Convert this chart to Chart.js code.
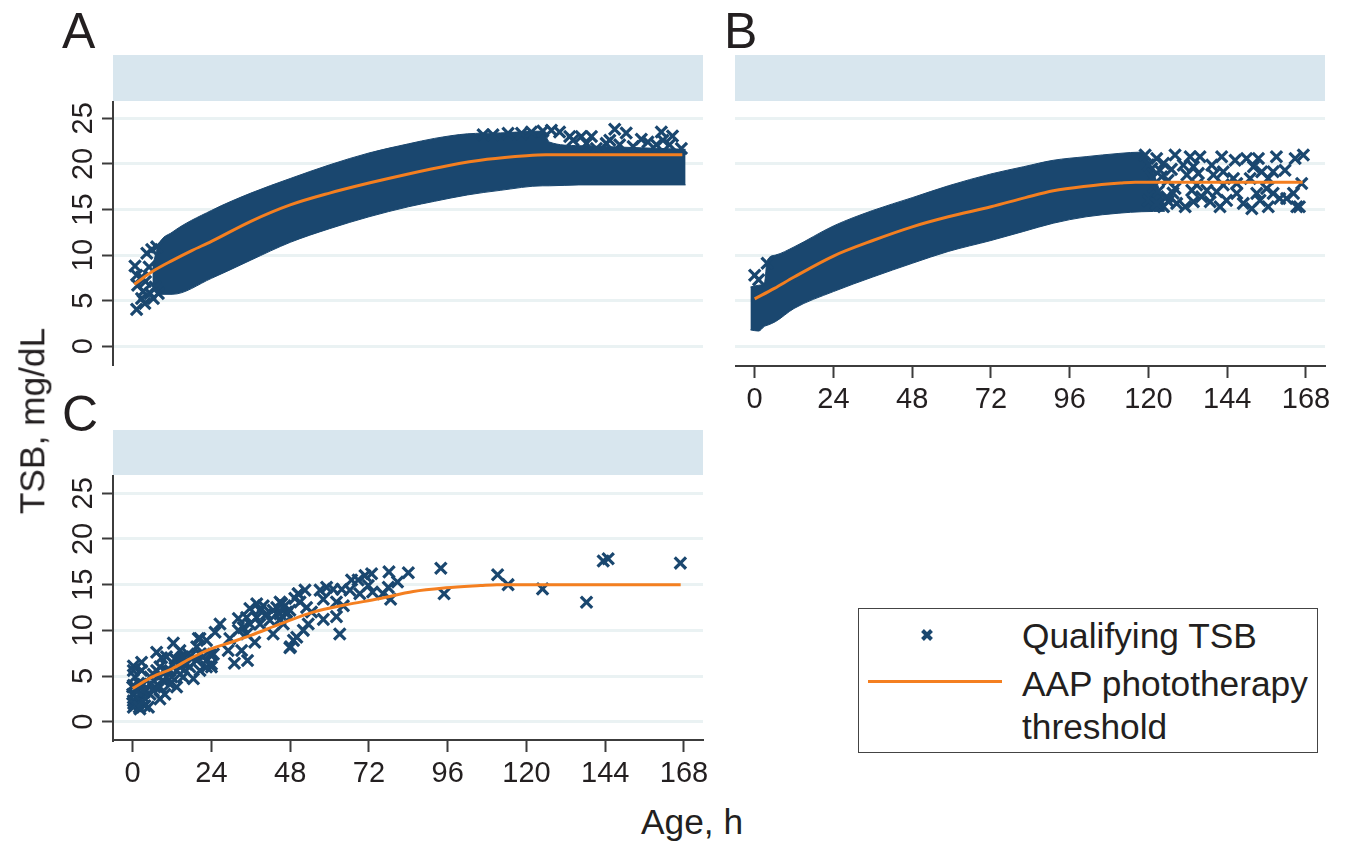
<!DOCTYPE html>
<html>
<head>
<meta charset="utf-8">
<title>TSB by age</title>
<script src="https://cdn.jsdelivr.net/npm/chart.js@4/dist/chart.umd.min.js"></script>
<style>
  html, body { margin: 0; padding: 0; background: #fff; }
  body { width: 1346px; height: 844px; position: relative; overflow: hidden; font-family: "Liberation Sans", Arial, sans-serif; color: #231f20; }
  canvas { position: absolute; display: block; }
  .band { position: absolute; width: 590px; height: 45.5px; background: #d8e6ee; }
  .txt { position: absolute; white-space: nowrap; line-height: 1; }
  .letter { font-size: 50px; }
  .axis-title { font-size: 35.3px; }
  #legend { position: absolute; left: 858px; top: 608px; width: 457.5px; height: 143px; border: 1.5px solid #444; }
  #legend svg { position: absolute; left: 0; top: 0; }
  #legend .txt { font-size: 35.3px; left: 163px; }
</style>
</head>
<body>
<div class="band" style="left:113px;top:55px"></div>
<div class="band" style="left:735px;top:55px"></div>
<div class="band" style="left:113px;top:429.5px"></div>
<canvas id="panelA" width="663" height="265" style="left:40px;top:101px"></canvas>
<canvas id="panelB" width="611" height="316" style="left:735px;top:101px"></canvas>
<canvas id="panelC" width="684" height="316" style="left:40px;top:474.5px"></canvas>
<div class="txt letter" style="left:62px;top:6px">A</div>
<div class="txt letter" style="left:724px;top:6px">B</div>
<div class="txt letter" style="left:62px;top:389px">C</div>
<div class="txt axis-title" style="left:31.5px;top:420.5px;transform:translate(-50%,-50%) rotate(-90deg)">TSB, mg/dL</div>
<div class="txt axis-title" style="left:641px;top:804px">Age, h</div>
<div id="legend">
  <svg width="457" height="143">
    <path d="M63.5 21.5 L72.5 30.5 M72.5 21.5 L63.5 30.5" stroke="#1a476f" stroke-width="4" fill="none"/>
    <line x1="9" y1="72.5" x2="143" y2="72.5" stroke="#f47f20" stroke-width="3"/>
  </svg>
  <div class="txt" style="top:9px">Qualifying TSB</div>
  <div class="txt" style="top:57px">AAP phototherapy</div>
  <div class="txt" style="top:100px">threshold</div>
</div>
<script>
const xTicks = [0, 24, 48, 72, 96, 120, 144, 168];
const yTicks = [0, 5, 10, 15, 20, 25];

// AAP threshold curves
const lineHoursA = [0.5, 6, 12, 18, 24, 36, 48, 60, 72, 84, 96, 108, 120, 126, 167.5];
const lineA = [6.8, 8.2, 9.4, 10.5, 11.5, 13.7, 15.5, 16.8, 17.9, 18.9, 19.8, 20.5, 20.9, 21, 21];
const lineHoursB = [0, 6, 12, 24, 36, 48, 59, 72, 82.5, 91, 101, 111.5, 116, 167];
const lineB = [5.2, 6.35, 7.6, 9.9, 11.6, 13.1, 14.2, 15.3, 16.3, 17.05, 17.55, 17.9, 18, 18];
const lineHoursC = [0, 6, 12, 18, 24, 30, 36, 45, 55, 65, 75, 85.5, 95.5, 106, 111, 167];
const lineC = [3.65, 4.9, 5.8, 7, 8, 8.7, 9.45, 10.7, 12, 12.8, 13.45, 14.25, 14.65, 14.9, 15, 15];

// solid part of the scatter, outer edges
const bandHoursA = [6, 8, 12, 24, 36, 48, 60, 72, 84, 92, 102, 112, 125, 127, 136, 168.5];
const bandTopA = [8.8, 11.2, 12.5, 14.9, 16.8, 18.4, 19.9, 21.2, 22.2, 22.8, 23.3, 23.4, 23.6, 22.4, 22, 21.6];
const bandLowA = [6.6, 5.7, 5.7, 7.45, 9.45, 11.4, 12.9, 14.2, 15.3, 15.9, 16.6, 17.1, 17.6, 17.6, 17.7, 17.7];
const bandHoursB = [-1.3, 1.2, 3, 3.8, 6.3, 12, 24, 36, 48, 59, 72, 82, 91, 101, 111, 118, 125];
const bandTopB = [6.5, 6.7, 7, 9.4, 10, 10.9, 13.2, 14.9, 16.3, 17.6, 18.9, 19.7, 20.4, 20.8, 21.15, 21.3, 15.5];
const bandLowB = [1.8, 1.67, 2.2, 2.3, 2.7, 4.15, 6, 7.6, 9.1, 10.4, 11.6, 12.6, 13.5, 14.2, 14.6, 14.76, 14.8];

// single crosses that stand clear of the solid part
const crossHoursA = [0.7, 1.2, 1.2, 1.5, 2.7, 2.7, 3.2, 3.7, 3.9, 4.3, 5, 5.3, 5.8, 6.3, 6.8, 7.3, 7.8,
  106.8, 109.8, 114.4, 118.5, 121.5, 125, 127.6, 130.1, 133.2, 134.2, 136.7, 139.8, 138.3, 141.3, 144.3, 145.4, 146.9, 148.4, 150.4,
  152.5, 155, 157, 159.6, 161.1, 161.6, 164.5, 163.6, 167.2];
const crossTsbA = [8.8, 7.8, 4.05, 6.7, 5.25, 7.6, 6, 4.7, 7.1, 10.2, 8.7, 5.8, 10.6, 5.25, 6.5, 10.9, 5.8,
  23.2, 23.2, 23.35, 23.35, 23.5, 23.6, 23.7, 23.5, 23, 22.6, 23, 23, 22.25, 21.7, 22.25, 22.6, 23.8, 22.1, 23.4,
  21.9, 22.7, 22.4, 22.1, 23.5, 22.6, 23.06, 22.1, 21.7];
const crossHoursB = [0, 1.2, 3.8,
  119, 122.5, 124.6, 128.1, 132.7, 135.7, 139.3, 142.3, 146.4, 149.9, 153.5, 159, 164.7, 167.2,
  121, 123.5, 133.7, 130.6, 142.8, 145.9, 152, 154.5, 158, 161.6, 151, 156.5, 135.2, 131.7, 139.8,
  121.5, 125.6, 128.6, 131.2, 133.7, 136.2, 138.8, 141.8, 143.8, 140.8, 146.9, 148.9, 151.5, 154, 156.5, 158, 156, 153,
  164.2, 165.2, 166.7, 162.1, 160, 137.8, 133.2, 128.1, 124.6, 120, 122.5, 146.9, 142.8, 134.7, 166,
  121, 123, 124, 126, 126, 127, 127.5, 120];
const crossTsbB = [7.8, 7.3, 9.1,
  20.97, 20.6, 20.06, 20.97, 20.79, 20.79, 19.87, 20.79, 20.4, 20.6, 20.6, 20.79, 20.6, 20.97,
  19.5, 19.3, 19.7, 19.87, 19.14, 18.4, 19.7, 19.14, 19.14, 19.3, 18.4, 18.4, 18.96, 18.8, 18.8,
  17.5, 16.4, 15.67, 15.3, 15.85, 16.4, 15.85, 15.3, 16, 16.95, 16.77, 15.67, 15.1, 16, 15.3, 16.77, 17.3, 16.77,
  16.77, 15.3, 17.86, 16.2, 16.2, 17.1, 17.1, 17.3, 15.3, 16, 15.67, 17.86, 17.7, 17.7, 15.3,
  18.5, 17, 18.6, 15.9, 18.2, 19.4, 16.8, 19.9];
const crossHoursC = [111.2, 114.4, 124.9, 138.3, 143.4, 144.9, 166.9,
  93.9, 94.9, 84, 78.1, 80.7, 77.9, 78.6, 76.3, 72.8, 70.8, 71.8, 73.1, 68.7, 66.7, 69.2, 66.2, 63.7, 61.1, 59.1, 57.1, 58.1, 62.1, 64.2, 62.1, 63.1,
  58.1, 53.5, 52, 49, 47.9, 53, 54.5, 51, 50.5, 52.5, 46.9, 45.4, 44.9,
  50.4, 48.1, 50, 42.8, 46.9, 44.9, 39.8, 35.7, 32.2, 26.6, 25.1, 20, 12.4, 7.3, 2.7, 0.2, 29.1, 31, 35, 33.2, 37.2, 34.7, 38.8, 41.8, 45.9, 37.8, 42.8, 32.2, 29.6,
  24, 0.2, 0, 0, 0.2, 1.2, 2.2, 3.7, 4.8, 3.2, 5.3, 8.3, 9.8, 6.8, 9.3, 13.4, 11.9, 14.4, 18.5, 20.5, 22.5, 24, 15.4, 10.3, 12.9, 16.9, 19.5, 5.3, 3.2, 0.7, 0.2, 2.7, 7.3, 8.8, 17.4, 21.5, 24.6, 14.4,
  0.3, 0.8, 1.5, 2, 2.5, 3, 3.5, 0.5, 1, 1.8, 0.2,
  5.3, 7.8, 10.3, 11.4, 14.4, 16.4, 17.4, 20.5, 22.5, 23.5, 19.5, 20.5, 22.5, 10.3, 13.4, 15.4, 8.3, 6.3, 11.4, 15.4, 8.3, 6.3, 3.2, 1.2,
  38.8, 40.8, 44.9, 47.9, 34.7, 33.7, 35.7, 37.8, 43.9, 46.4, 49.4];
const crossTsbC = [16.08, 15, 14.54, 13.08, 17.58, 17.83, 17.36,
  16.8, 14, 16.3, 16.4, 15.3, 14.7, 13.4, 14, 16.2, 16, 14.9, 14.2, 15.5, 15.5, 14, 14.4, 14.5, 14.5, 14.7, 14.4, 13.4, 13.1, 12.7, 11.5, 9.6,
  11.2, 10.7, 10, 8.9, 8.1, 12.5, 12, 13.1, 14, 14.4, 12, 12.9, 11.2,
  14, 8.2, 9.25, 9.6, 11.8, 13.1, 12.7, 12.4, 11.3, 10.7, 9.8, 9.1, 8.6, 7.6, 6.5, 6.1, 7.8, 6.4, 6.7, 7.8, 8.7, 9.6, 10.7, 11.1, 10.7, 11.4, 12.2, 10, 9.1,
  6, 2.3, 3, 3.8, 1.6, 2.1, 1.4, 1.75, 1.6, 2.7, 3, 2.5, 3, 3.8, 4.5, 3.8, 4.9, 5.2, 4.7, 5.6, 6, 6.3, 6.3, 5.6, 6.9, 7.4, 6.7, 4.9, 4.1, 4.9, 5.6, 5.6, 5.6, 7, 6, 7.1, 7.4, 7.8,
  2, 1.8, 2.5, 1.6, 3, 2.2, 3.2, 3, 3.6, 4.2, 4,
  4.1, 4.9, 4.9, 5.6, 6, 6.3, 7.1, 7.4, 6.7, 7.4, 8.2, 9.1, 8.9, 7.1, 6.7, 7.1, 3.8, 3.4, 4.1, 4.9, 6, 5.2, 3.4, 3.4,
  12.2, 11.8, 11.8, 12.2, 11.4, 10.3, 10.7, 12.9, 12.5, 12.7, 13.5];

const NAVY = '#1a476f';
const ORANGE = '#f47f20';
const AXIS = '#3c3c3c';
const TEXT = '#231f20';
const GRID = '#eaf2f3';
const TICK_FONT = { family: '"Liberation Sans", Arial, sans-serif', size: 29 };

const pairs = (xs, ys) => xs.map((x, i) => ({ x, y: ys[i] }));

function setTicks(values) {
  return (axis) => { axis.ticks = values.map((value) => ({ value })); };
}

// keep the plot area fixed: no room reserved for labels hanging past the ends
function fixSize(axis, prop, size) {
  axis[prop] = size;
  axis.paddingLeft = 0;
  axis.paddingRight = 0;
  axis.paddingTop = 0;
  axis.paddingBottom = 0;
}

function drawPanel(id, opts) {
  const datasets = [
    { type: 'line', data: pairs(opts.lineHours, opts.line), borderColor: ORANGE, borderWidth: 3, pointRadius: 0, fill: false, cubicInterpolationMode: 'monotone', order: 1 },
    { type: 'scatter', data: pairs(opts.crossHours, opts.crossTsb), pointStyle: 'crossRot', pointRadius: 8, pointBorderWidth: 3.2, pointBorderColor: NAVY, pointBackgroundColor: NAVY, order: 2 },
  ];

  if (opts.bandHours) {
    datasets.push(
      { type: 'line', data: pairs(opts.bandHours, opts.bandTop), borderColor: NAVY, borderWidth: 1, backgroundColor: NAVY, pointRadius: 0, cubicInterpolationMode: 'monotone', fill: '+1', order: 3 },
      { type: 'line', data: pairs(opts.bandHours, opts.bandLow), borderColor: NAVY, borderWidth: 1, pointRadius: 0, cubicInterpolationMode: 'monotone', fill: false, order: 4 },
    );
  }

  return new Chart(document.getElementById(id), {
    data: { datasets },
    options: {
      responsive: false,
      animation: false,
      layout: { autoPadding: false, padding: { right: opts.rightRoom } },
      plugins: { legend: { display: false }, tooltip: { enabled: false } },
      scales: {
        x: {
          type: 'linear',
          display: opts.showX,
          min: -6,
          max: 173.8,
          afterBuildTicks: setTicks(xTicks),
          afterFit(axis) { fixSize(axis, 'height', opts.showX ? 51 : 0); },
          border: { color: AXIS, width: 2 },
          grid: { drawOnChartArea: false, tickLength: 12, tickColor: AXIS, tickWidth: 2 },
          ticks: { color: TEXT, font: TICK_FONT, padding: 5, maxRotation: 0, minRotation: 0, autoSkip: false },
        },
        y: {
          type: 'linear',
          min: opts.yMin,
          max: opts.yMax,
          afterBuildTicks: setTicks(yTicks),
          afterFit(axis) { fixSize(axis, 'width', opts.showY ? 73 : 0); },
          border: { display: opts.showY, color: AXIS, width: 2 },
          grid: { color: GRID, lineWidth: 3, drawTicks: opts.showY, tickLength: 11, tickColor: AXIS, tickWidth: 2 },
          ticks: { display: opts.showY, color: TEXT, font: TICK_FONT, padding: 2, crossAlign: 'center', minRotation: 90, maxRotation: 90, autoSkip: false },
        },
      },
    },
  });
}

drawPanel('panelA', {
  showX: false, showY: true, yMin: -2.16, yMax: 26.9, rightRoom: 0,
  lineHours: lineHoursA, line: lineA,
  bandHours: bandHoursA, bandTop: bandTopA, bandLow: bandLowA,
  crossHours: crossHoursA, crossTsb: crossTsbA,
});
drawPanel('panelB', {
  showX: true, showY: false, yMin: -2.16, yMax: 26.9, rightRoom: 21,
  lineHours: lineHoursB, line: lineB,
  bandHours: bandHoursB, bandTop: bandTopB, bandLow: bandLowB,
  crossHours: crossHoursB, crossTsb: crossTsbB,
});
drawPanel('panelC', {
  showX: true, showY: true, yMin: -2.0, yMax: 27.0, rightRoom: 21,
  lineHours: lineHoursC, line: lineC,
  crossHours: crossHoursC, crossTsb: crossTsbC,
});
</script>
</body>
</html>
